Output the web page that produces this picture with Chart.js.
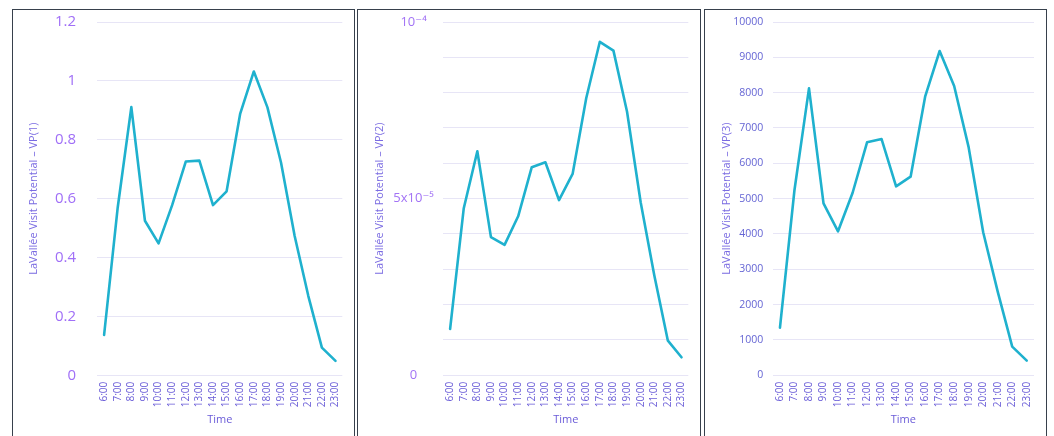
<!DOCTYPE html>
<html>
<head>
<meta charset="utf-8">
<script src="https://cdn.jsdelivr.net/npm/chart.js@4.4.1/dist/chart.umd.min.js"></script>
<style>
  html, body { margin: 0; padding: 0; background: #fff; width: 1054px; height: 436px; overflow: hidden; }
  .panel { position: absolute; top: 9px; height: 450px; border: 1px solid #37404c; box-sizing: border-box; background: #fff; }
  .panel canvas { position: absolute; left: 0; top: 0; }
</style>
</head>
<body>
<div class="panel" style="left:12px;width:343px"><canvas id="c1" width="341" height="426" style="width:341px;height:426px"></canvas></div>
<div class="panel" style="left:357px;width:344px"><canvas id="c2" width="342" height="426" style="width:342px;height:426px"></canvas></div>
<div class="panel" style="left:704px;width:343px"><canvas id="c3" width="341" height="426" style="width:341px;height:426px"></canvas></div>
<script>
// Hours of the day shown on every x axis
const hours = ['6:00','7:00','8:00','9:00','10:00','11:00','12:00','13:00','14:00','15:00',
               '16:00','17:00','18:00','19:00','20:00','21:00','22:00','23:00'];

// Visit potential per hour, three variants
const vp1 = [0.137, 0.57, 0.911, 0.525, 0.448, 0.578, 0.726, 0.729, 0.578, 0.625,
             0.889, 1.032, 0.91, 0.722, 0.473, 0.27, 0.094, 0.049];
const vp2 = [1.31e-5, 4.72e-5, 6.34e-5, 3.91e-5, 3.69e-5, 4.5e-5, 5.89e-5, 6.03e-5, 4.96e-5, 5.70e-5,
             7.84e-5, 9.44e-5, 9.19e-5, 7.46e-5, 4.9e-5, 2.83e-5, 0.98e-5, 0.51e-5];
const vp3 = [1347, 5245, 8123, 4868, 4075, 5160, 6595, 6688, 5348, 5622,
             7886, 9179, 8189, 6450, 4050, 2370, 810, 414];

// Y tick values and their labels
const yTicks1 = [0, 0.2, 0.4, 0.6, 0.8, 1, 1.2];
const yLabels1 = ['0', '0.2', '0.4', '0.6', '0.8', '1', '1.2'];
const yTicks2 = [0, 1e-5, 2e-5, 3e-5, 4e-5, 5e-5, 6e-5, 7e-5, 8e-5, 9e-5, 1e-4];
const yLabels2 = ['0', '', '', '', '', '5x10\u207B\u2075', '', '', '', '', '10\u207B\u2074'];
const yTicks3 = [0, 1000, 2000, 3000, 4000, 5000, 6000, 7000, 8000, 9000, 10000];
const yLabels3 = ['0', '1000', '2000', '3000', '4000', '5000', '6000', '7000', '8000', '9000', '10000'];

const FONT = "'Open Sans', 'DejaVu Sans', sans-serif";
const LINE = '#1fb1ce';
const GRID = '#e7e5f6';

function makeChart(id, cfg) {
  const H = 426, plotBottom = 365.3;
  return new Chart(document.getElementById(id), {
    type: 'line',
    data: {
      labels: hours,
      datasets: [{
        data: cfg.values,
        borderColor: LINE,
        borderWidth: 2.6,
        borderJoinStyle: 'round',
        borderCapStyle: 'round',
        pointRadius: 0,
        pointHoverRadius: 0,
        tension: 0,
        fill: false
      }]
    },
    options: {
      responsive: false,
      animation: false,
      events: [],
      layout: { padding: { left: 0, top: 12, bottom: 0, right: cfg.width - cfg.areaRight } },
      plugins: { legend: { display: false }, tooltip: { enabled: false } },
      scales: {
        x: {
          type: 'category',
          offset: true,
          grid: { display: false, drawTicks: false },
          border: { display: false },
          ticks: {
            autoSkip: false,
            minRotation: 90,
            maxRotation: 90,
            padding: 6.5,
            color: '#6b5ed8',
            font: { family: FONT, size: 10 }
          },
          title: {
            display: true,
            text: 'Time',
            color: '#6a5bd8',
            font: { family: FONT, size: 11 },
            padding: { top: 0, bottom: 9.8 }
          },
          afterFit: s => { s.height = H - plotBottom; s.paddingLeft = 0; s.paddingRight = 0; }
        },
        y: {
          type: 'linear',
          min: cfg.ticks[0],
          max: cfg.ticks[cfg.ticks.length - 1],
          afterBuildTicks: s => { s.ticks = cfg.ticks.map(v => ({ value: v })); },
          grid: { color: GRID, lineWidth: 1, drawTicks: false },
          border: { display: false },
          ticks: {
            padding: cfg.tickPad,
            crossAlign: cfg.crossAlign || 'near',
            color: cfg.tickColor,
            font: { family: FONT, size: cfg.tickSize },
            callback: (v, i) => cfg.labels[i]
          },
          title: {
            display: true,
            text: cfg.title,
            color: '#7a6be2',
            font: { family: FONT, size: 11 },
            padding: { top: cfg.titlePad, bottom: 0 }
          },
          afterFit: s => { s.width = cfg.areaLeft; s.paddingTop = 0; s.paddingBottom = 0; }
        }
      }
    }
  });
}

makeChart('c1', {
  values: vp1, ticks: yTicks1, labels: yLabels1,
  width: 341, areaLeft: 84.3, areaRight: 329.3,
  tickPad: 21.3, tickColor: '#a06ff7', tickSize: 15,
  title: 'LaVallée Visit Potential \u2013 VP(1)', titlePad: 14.4
});

makeChart('c2', {
  values: vp2, ticks: yTicks2, labels: yLabels2,
  width: 342, areaLeft: 85.3, areaRight: 330.3,
  tickPad: 9.5, crossAlign: 'center', tickColor: '#a273f5', tickSize: 13,
  title: 'LaVallée Visit Potential \u2013 VP(2)', titlePad: 15.4
});

makeChart('c3', {
  values: vp3, ticks: yTicks3, labels: yLabels3,
  width: 341, areaLeft: 67.7, areaRight: 329,
  tickPad: 9.4, tickColor: '#6565d4', tickSize: 10.5,
  title: 'LaVallée Visit Potential \u2013 VP(3)', titlePad: 15.1
});
</script>
</body>
</html>
